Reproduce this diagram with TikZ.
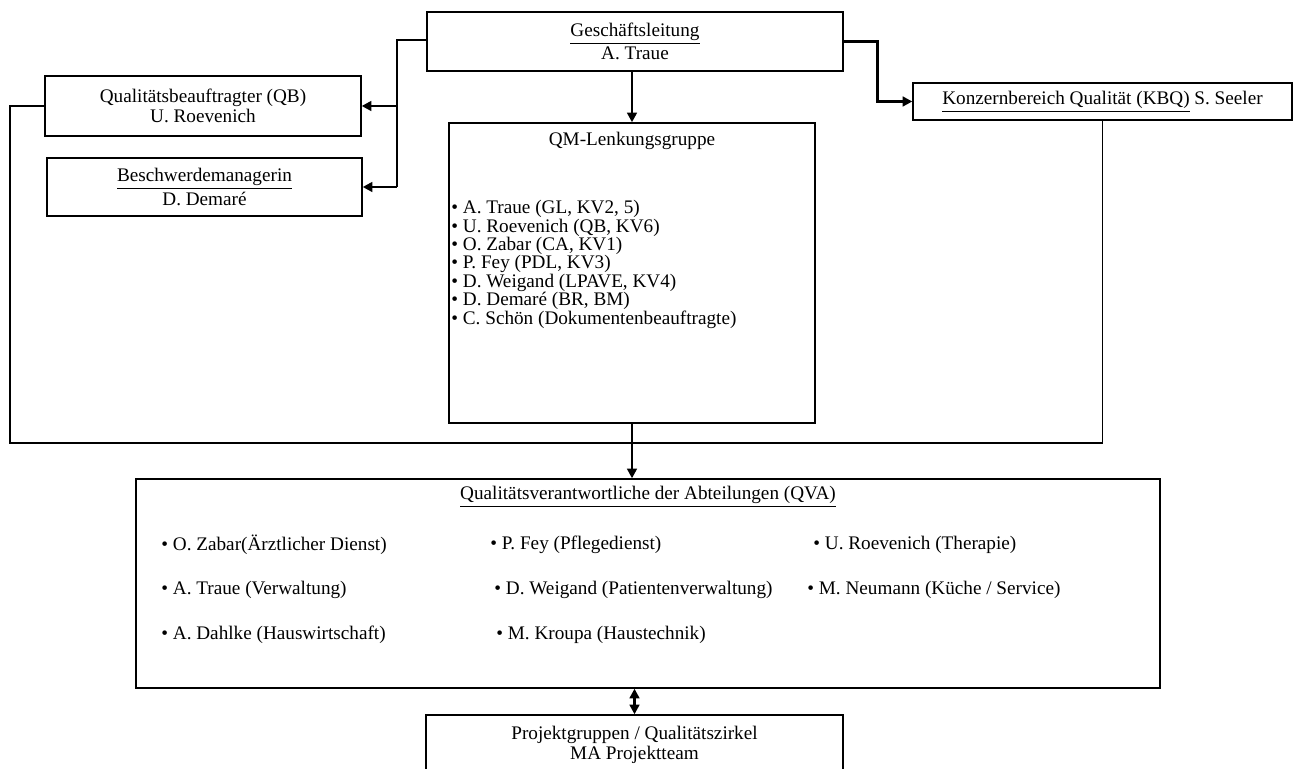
\documentclass[tikz,border=0pt]{standalone}
\usepackage{fontspec}
\setmainfont{Liberation Serif}
\usetikzlibrary{arrows.meta}

\tikzset{
  box/.style={draw,line width=.7pt,inner sep=0pt,align=center},
  thinline/.style={line width=.6pt},
  thickline/.style={line width=1.3pt,-{Triangle[length=4.8pt,width=4.8pt]}},
}

\begin{document}
\begin{tikzpicture}[x=.5pt,y=-.5pt,font=\fontsize{9.6}{10}\selectfont]

        \useasboundingbox (0,0) rectangle (1296,769);

        \begin{scope}[every node/.style={box}]
          \node (gl)  at (635,41.5)  [minimum width=208pt,minimum height=29.5pt] {\underline{Geschäftsleitung}\\A. Traue};
          \node (qb)  at (203,106)   [minimum width=158pt,minimum height=30pt] {Qualitätsbeauftragter (QB)\\U. Roevenich};
          \node (bm)  at (204.5,187) [minimum width=157.5pt,minimum height=29pt] {\underline{Beschwerdemanagerin}\\D. Demaré};
          \node (kbq) at (1102.5,101.5) [minimum width=189.5pt,minimum height=18.5pt] {\underline{Konzernbereich Qualität (KBQ)} S. Seeler};
          \node (qm)  at (632,273)   [minimum width=183pt,minimum height=150pt] {};
          \node (qva) at (648,583.5) [minimum width=512pt,minimum height=104.5pt] {};
          \node (pg)  at (634.5,745) [minimum width=208.5pt,minimum height=30pt] {Projektgruppen / Qualitätszirkel\\MA Projektteam};
        \end{scope}

        % text inside the two large boxes
        \node (qmtitle) at (632,141) {QM-Lenkungsgruppe};
        \node (qmlist) [anchor=north west,align=left,inner sep=0pt,
          font=\fontsize{9.6}{9.2}\selectfont] at (451,200)
          {\textbullet{} A. Traue (GL, KV2, 5)\\
           \textbullet{} U. Roevenich (QB, KV6)\\
           \textbullet{} O. Zabar (CA, KV1)\\
           \textbullet{} P. Fey (PDL, KV3)\\
           \textbullet{} D. Weigand (LPAVE, KV4)\\
           \textbullet{} D. Demaré (BR, BM)\\
           \textbullet{} C. Schön (Dokumentenbeauftragte)};

        \node (qvatitle) at (648,497) {\underline{Qualitätsverantwortliche der Abteilungen (QVA)}};

        \begin{scope}[every node/.style={anchor=west,inner sep=0pt}]
          \node (v1) at (161,545) {\textbullet{} O. Zabar(Ärztlicher Dienst)};
          \node (v2) at (161,590) {\textbullet{} A. Traue (Verwaltung)};
          \node (v3) at (161,635) {\textbullet{} A. Dahlke (Hauswirtschaft)};
          \node (v4) at (490,545) {\textbullet{} P. Fey (Pflegedienst)};
          \node (v5) at (494,590) {\textbullet{} D. Weigand (Patientenverwaltung)};
          \node (v6) at (496,635) {\textbullet{} M. Kroupa (Haustechnik)};
          \node (v7) at (813,545) {\textbullet{} U. Roevenich (Therapie)};
          \node (v8) at (807,590) {\textbullet{} M. Neumann (Küche / Service)};
        \end{scope}

        % connectors
        \coordinate (split) at (397,40);
        \coordinate (busl)  at (10,443);
        \coordinate (busr)  at (1102.5,443);

        \draw[thinline] (gl.west |- split) -- (split) -- (split |- bm.east);
        \draw[thickline] (split |- qb.east) -- (qb.east);
        \draw[thickline] (split |- bm.east) -- (bm.east);
        \draw[thickline] (gl.east) -- ++(34,0) |- (kbq.west);
        \draw[thickline] (gl.south -| qm.north) -- (qm.north);
        \draw[thickline] (qm.south) -- (qm.south |- qva.north);
        \draw[thinline] (qb.west) -| (busl) -- (busr) -- (kbq.south);
        \draw[line width=1.3pt,{Triangle[length=4.8pt,width=4.8pt]}-{Triangle[length=4.8pt,width=4.8pt]}]
          (qva.south -| pg.north) -- (pg.north);

      \end{tikzpicture}
\end{document}
